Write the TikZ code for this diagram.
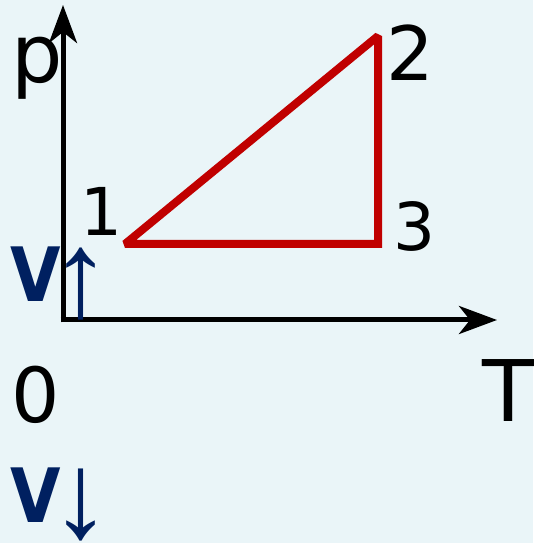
\documentclass[tikz,border=0pt]{standalone}
\usepackage{fontspec}
\setmainfont{DejaVu Sans}
\newfontfamily\vfont[FakeStretch=0.87]{DejaVu Sans Bold}
\newfontfamily\arrowfont{Liberation Sans}
\usepackage{tikz}
\usetikzlibrary{arrows.meta,calc,positioning}
\definecolor{bgblue}{RGB}{234,245,248}
\definecolor{darkred}{RGB}{192,0,0}
\definecolor{navy}{RGB}{0,32,96}

\begin{document}
\begin{tikzpicture}[x=1pt,y=1pt,
    axis/.style={line width=5pt,-{Stealth[length=38pt,width=28pt,inset=11pt]}},
    cycleline/.style={darkred,line width=8pt,line join=miter,miter limit=2},
    lbl/.style={inner sep=0pt,anchor=center},
    vol/.style={navy,inner sep=0pt,anchor=base west}]
        % Background
        \fill[bgblue] (0,0) rectangle (533,543);
        \useasboundingbox (0,0) rectangle (533,543);
        % Define points
        \coordinate (O) at (63,223);
        \coordinate (ptip) at (63,538);
        \coordinate (Ttip) at (497,223);
        \coordinate (A) at (125,299);
        \coordinate (B) at (378,507);
        \coordinate (C) at (378,299);
        % Draw axes
        \draw[axis] ($(O)+(0,-2.5)$) -- (ptip);
        \draw[axis] ($(O)+(-2.5,0)$) -- (Ttip);
        % Draw the cycle
        \draw[cycleline] (A) -- (B) -- (C) -- cycle;
        % Label the axes
        \node[lbl] (lp) at (37.5,475) {\fontsize{81}{90}\selectfont p};
        \node[lbl] (lT) at (508,152) {\fontsize{85}{90}\selectfont T};
        \node[lbl] (l0) at (35.5,148) {\fontsize{76}{90}\selectfont 0};
        % Label the states
        \node[lbl] (l1) at (101,332) {\fontsize{66}{70}\selectfont 1};
        \node[lbl] (l2) at (410.5,490.5) {\fontsize{75}{80}\selectfont 2};
        \node[lbl] (l3) at (414,317) {\fontsize{66}{70}\selectfont 3};
        % Volume
        \node[vol] (vup) at (10,241) {\fontsize{75}{80}\vfont V\kern-10pt\fontsize{122}{120}\arrowfont\raisebox{-15pt}{↑}};
        \node[vol] (vdown) at (10,20) {\fontsize{75}{80}\vfont V\kern-10pt\fontsize{122}{120}\arrowfont\raisebox{-15pt}{↓}};
      \end{tikzpicture}
\end{document}
